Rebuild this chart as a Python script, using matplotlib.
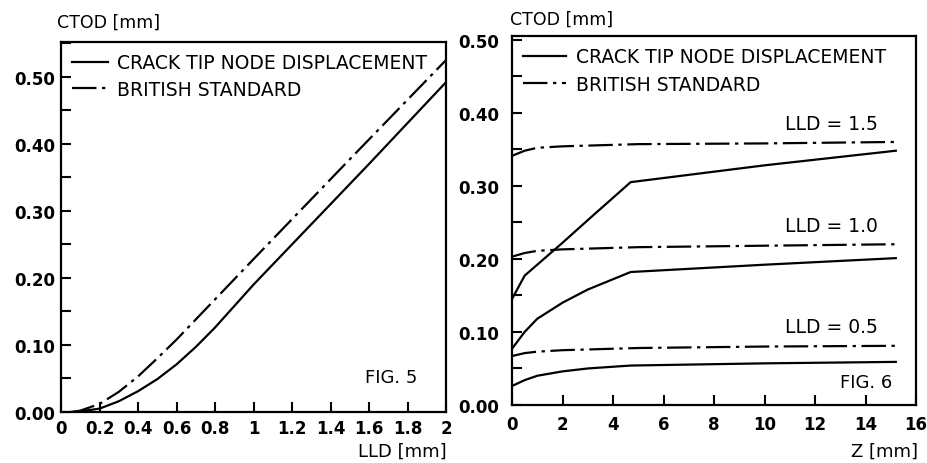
import numpy as np
import matplotlib
matplotlib.use("Agg")
from matplotlib import pyplot as plt
from matplotlib.ticker import MultipleLocator

# FIG. 5 : CTOD vs load line displacement
lld = [0.07, 0.1, 0.2, 0.3, 0.4, 0.5, 0.6, 0.7, 0.8, 0.9, 1.0, 1.2, 1.6, 2.0]
ctod_node = [0.0, 0.001, 0.005, 0.016, 0.031, 0.049, 0.071, 0.097, 0.126, 0.158, 0.19, 0.25, 0.37, 0.492]
lld_bs = [0.05, 0.1, 0.2, 0.3, 0.4, 0.5, 0.6, 0.8, 1.0, 1.5, 2.0]
ctod_bs = [0.0, 0.002, 0.012, 0.03, 0.053, 0.08, 0.108, 0.168, 0.228, 0.377, 0.525]

# FIG. 6 : CTOD along crack front, Z
z_node = [0, 0.5, 1.0, 2.0, 3.0, 4.7, 10.0, 15.2]
node_05 = [0.026, 0.034, 0.04, 0.046, 0.05, 0.054, 0.057, 0.059]
node_10 = [0.077, 0.1, 0.118, 0.14, 0.158, 0.182, 0.192, 0.201]
node_15 = [0.145, 0.177, 0.192, 0.222, 0.253, 0.305, 0.328, 0.348]
z_bs = [0, 0.5, 1.0, 2.0, 3.0, 5.0, 10.0, 15.2]
bs_05 = [0.067, 0.071, 0.073, 0.075, 0.076, 0.078, 0.080, 0.081]
bs_10 = [0.203, 0.208, 0.211, 0.213, 0.214, 0.216, 0.218, 0.220]
bs_15 = [0.341, 0.348, 0.352, 0.354, 0.355, 0.357, 0.358, 0.360]

lld_labels = ["LLD = 0.5", "LLD = 1.0", "LLD = 1.5"]
label_y = [0.107, 0.245, 0.385]

xticks5 = [0, 0.2, 0.4, 0.6, 0.8, 1, 1.2, 1.4, 1.6, 1.8, 2]
xlabels5 = ["0", "0.2", "0.4", "0.6", "0.8", "1", "1.2", "1.4", "1.6", "1.8", "2"]

plt.rcParams['font.family'] = 'DejaVu Sans'
plt.rcParams['font.size'] = 12
LW = 1.6
DASH = (11, 2.5, 1.5, 2.5)

fig = plt.figure(figsize=(9.28, 4.64), dpi=100)
ax1 = fig.add_axes([61/928, 1-413/464, 385/928, 370/464])
ax2 = fig.add_axes([512/928, 1-406/464, 404/928, 369/464])


def style(ax):
    for s in ax.spines.values():
        s.set_linewidth(1.6)
    ax.tick_params(which='both', direction='in', length=7, width=1.5,
                   top=False, right=False)
    ax.yaxis.set_major_locator(MultipleLocator(0.1))
    ax.yaxis.set_minor_locator(MultipleLocator(0.05))
    ax.yaxis.set_major_formatter(lambda v, p: "%.2f" % v)
    for lab in ax.get_xticklabels() + ax.get_yticklabels():
        lab.set_fontweight('bold')
        lab.set_fontsize(12)


# left panel
ax1.plot(lld, ctod_node, color='black', lw=LW, label='CRACK TIP NODE DISPLACEMENT')
ax1.plot(lld_bs, ctod_bs, color='black', lw=LW, dashes=DASH, label='BRITISH STANDARD')
ax1.set_xlim(0, 2)
ax1.set_ylim(0, 0.552)
ax1.set_xticks(xticks5)
ax1.set_xticklabels(xlabels5)
style(ax1)
ax1.tick_params(axis='x', pad=5)
ax1.tick_params(axis='y', pad=4)
ax1.legend(loc='upper left', frameon=False, fontsize=13.5, handlelength=1.9,
           handletextpad=0.5, borderaxespad=0.2, labelspacing=0.4)
ax1.text(0.925, 0.095, "FIG. 5", transform=ax1.transAxes, ha='right', va='center', fontsize=13)
fig.text(57/928, 1-23/464, "CTOD [mm]", ha='left', va='center', fontsize=12.5)
fig.text(447/928, 1-452/464, "LLD [mm]", ha='right', va='center', fontsize=13)

# right panel
ax2.plot(z_node, node_05, color='black', lw=LW)
ax2.plot(z_node, node_10, color='black', lw=LW)
ax2.plot(z_node, node_15, color='black', lw=LW, label='CRACK TIP NODE DISPLACEMENT')
ax2.plot(z_bs, bs_05, color='black', lw=LW, dashes=DASH)
ax2.plot(z_bs, bs_10, color='black', lw=LW, dashes=DASH)
ax2.plot(z_bs, bs_15, color='black', lw=LW, dashes=DASH, label='BRITISH STANDARD')
ax2.set_xlim(0, 16)
ax2.set_ylim(0, 0.505)
ax2.xaxis.set_major_locator(MultipleLocator(2))
style(ax2)
ax2.tick_params(axis='x', pad=7)
ax2.tick_params(axis='y', pad=9)
ax2.legend(loc='upper left', frameon=False, fontsize=13.5, handlelength=2.3,
           handletextpad=0.5, borderaxespad=0.2, labelspacing=0.45)
for t, yy in zip(lld_labels, label_y):
    ax2.text(14.5, yy, t, ha='right', va='center', fontsize=13.5)
ax2.text(0.94, 0.062, "FIG. 6", transform=ax2.transAxes, ha='right', va='center', fontsize=13)
fig.text(510/928, 1-20/464, "CTOD [mm]", ha='left', va='center', fontsize=12.5)
fig.text(918/928, 1-452/464, "Z [mm]", ha='right', va='center', fontsize=13)

fig.savefig("out.png", dpi=100)
